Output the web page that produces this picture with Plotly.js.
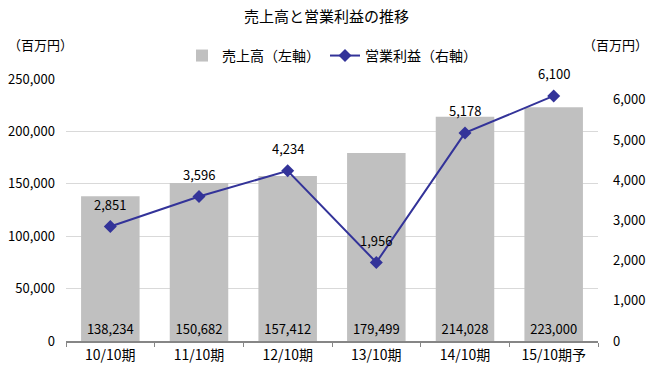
<!DOCTYPE html>
<html><head><meta charset="utf-8">
<script src="https://cdn.plot.ly/plotly-3.0.1.min.js"></script>
<style>body{margin:0;background:#fff}#c{width:653px;height:374px}</style>
</head><body><div id="c"></div>
<script>
const categories = ["10/10期","11/10期","12/10期","13/10期","14/10期","15/10期予"];
const sales = [138234,150682,157412,179499,214028,223000];
const profit = [2851,3596,4234,1956,5178,6100];
const fmt = v => v.toLocaleString('en-US');
const F = '"Noto Sans CJK JP", "Noto Sans", sans-serif';

const traces = [
  {type:'bar', x:categories, y:sales, name:'売上高（左軸）',
   marker:{color:'#c0c0c0'}, width:0.66,
   text:sales.map(fmt), textposition:'inside', insidetextanchor:'start',
   textfont:{family:F,size:13,color:'#000'}, cliponaxis:false, hoverinfo:'skip'},
  {type:'scatter', mode:'lines+markers', x:categories, y:profit, yaxis:'y2',
   name:'営業利益（右軸）', line:{color:'#333399',width:2},
   marker:{symbol:'diamond',size:10,color:'#333399'}, cliponaxis:false}
];
const profitLabels = categories.map((c,i)=>({
  x:c, y:profit[i], xref:'x', yref:'y2', text:fmt(profit[i]), showarrow:false,
  yshift:22, font:{family:F,size:13,color:'#000'}
}));
const layout = {
  width:653, height:374, margin:{l:66,r:55,t:79,b:33},
  paper_bgcolor:'#fff', plot_bgcolor:'#fff',
  font:{family:F,size:13,color:'#000'},
  title:{text:'売上高と営業利益の推移', x:0.5, xanchor:'center', y:0.955, yanchor:'middle',
         font:{family:F,size:15,color:'#000'}},
  showlegend:true,
  legend:{orientation:'h', x:0.5, xanchor:'center', y:1.088, yanchor:'middle',
          font:{family:F,size:14}, traceorder:'normal', tracegroupgap:0},
  xaxis:{type:'category', showline:true, linecolor:'#868686', linewidth:2,
         ticks:'outside', tickson:'boundaries', ticklen:4, tickcolor:'#868686', tickwidth:1,
         showgrid:false, tickfont:{family:F,size:14}},
  yaxis:{range:[0,250000], dtick:50000, tickformat:',d', showgrid:true, gridcolor:'#d9d9d9',
         gridwidth:1, zeroline:false, showline:false, ticks:'', ticklabelstandoff:10,
         tickfont:{family:F,size:13}},
  yaxis2:{overlaying:'y', side:'right', range:[0,6520], dtick:1000, tickformat:',d',
          showgrid:false, zeroline:false, showline:false, ticks:'', ticklabelstandoff:14,
          tickfont:{family:F,size:13}},
  annotations:[
    {text:'（百万円）', xref:'paper', yref:'paper', x:-0.112, xanchor:'left', y:1.13, yanchor:'middle', showarrow:false, font:{family:F,size:13}},
    {text:'（百万円）', xref:'paper', yref:'paper', x:1.098, xanchor:'right', y:1.13, yanchor:'middle', showarrow:false, font:{family:F,size:13}}
  ].concat(profitLabels)
};
Plotly.newPlot('c', traces, layout, {displayModeBar:false, staticPlot:true});
</script></body></html>
